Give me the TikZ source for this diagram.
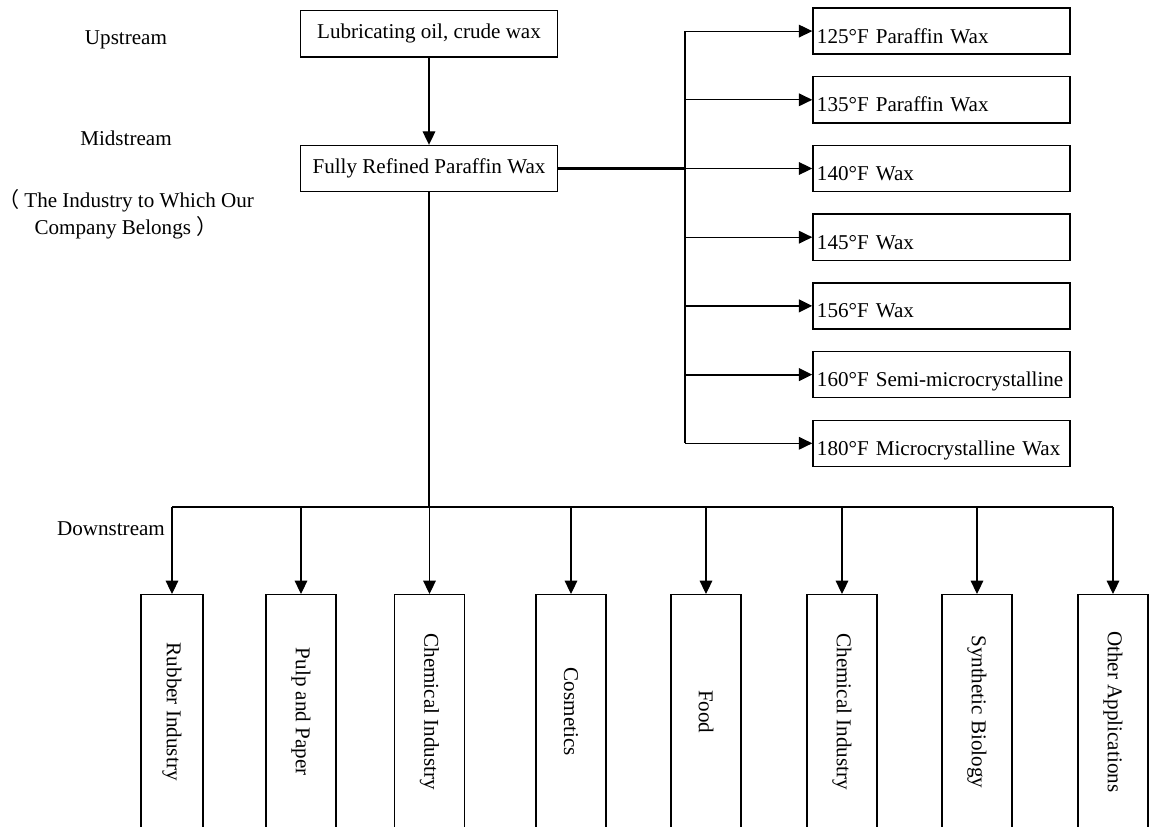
\documentclass[tikz,border=0pt]{standalone}
\usepackage{fontspec}
\setmainfont{Liberation Serif}
\newfontfamily\cjk{Noto Sans CJK SC}
\usetikzlibrary{arrows.meta}

\tikzset{
  stagebox/.style={draw, line width=1pt, minimum width=6.425cm, minimum height=1.15cm, inner sep=0pt},
  waxbox/.style={draw, line width=1pt, minimum height=1.15cm, text width=6.225cm, inner xsep=0.1cm, inner ysep=0pt, align=left, text height=17pt, text depth=0pt},
  appbox/.style={draw, line width=1pt, minimum width=1.75cm, minimum height=5.85cm, anchor=north, inner sep=0pt},
  arr/.style={-{Triangle[length=9.5pt,width=9pt]}, line width=0.8pt},
  main/.style={line width=1.5pt},
}

\begin{document}
\begin{tikzpicture}[x=0.025cm, y=-0.025cm, every node/.style={font=\fontsize{15pt}{19pt}\selectfont}]
        \useasboundingbox (0,0) rectangle (1152,827);
        \clip (0,0) rectangle (1152,827);

        % stage labels
        \node (upl) at (126,40) {Upstream};
        \node (midl) at (126,138) {Midstream};
        \node[align=center, inner sep=0pt] (ownl) at (126,214) {{\cjk （}\hspace{0.25em}The Industry to Which Our\\Company Belongs\hspace{0.25em}{\cjk ）}};
        \node (downl) at (111,529) {Downstream};

        % upstream -> midstream
        \node[stagebox] (up) at (429,33.8) {Lubricating oil, crude wax};
        \node[stagebox] (mid) at (429,168.5) {Fully Refined Paraffin Wax};
        \draw[arr] (up) -- (mid);

        % wax grades
        \coordinate (trunk) at (685,0);
        \node[waxbox] (w1) at (941.5,31.1) {125°F Paraffin Wax};
        \node[waxbox] (w2) at (941.5,99.8) {135°F Paraffin Wax};
        \node[waxbox] (w3) at (941.5,168.5) {140°F Wax};
        \node[waxbox] (w4) at (941.5,237.2) {145°F Wax};
        \node[waxbox] (w5) at (941.5,305.9) {156°F Wax};
        \node[waxbox] (w6) at (941.5,374.6) {160°F Semi-microcrystalline};
        \node[waxbox] (w7) at (941.5,443.3) {180°F Microcrystalline Wax};

        \draw[line width=0.8pt] (trunk |- w1) -- (trunk |- w7);
        \draw[main] (mid.east) -- (trunk |- mid) -- (trunk |- w6);
        \draw[arr] (trunk |- w1) -- (w1.west);
        \draw[arr] (trunk |- w2) -- (w2.west);
        \draw[arr] (trunk |- w3) -- (w3.west);
        \draw[arr] (trunk |- w4) -- (w4.west);
        \draw[arr, main] (trunk |- w5) -- (w5.west);
        \draw[arr, main] (trunk |- w6) -- (w6.west);
        \draw[arr] (trunk |- w7) -- (w7.west);

        % downstream applications
        \coordinate (bus) at (429,507);
        \node[appbox, minimum width=1.54cm] (a1) at (172,594) {\rotatebox{-90}{Rubber Industry}};
        \node[appbox] (a2) at (301,594) {\rotatebox{-90}{Pulp and Paper}};
        \node[appbox] (a3) at (429.5,594) {\rotatebox{-90}{Chemical Industry}};
        \node[appbox] (a4) at (571,594) {\rotatebox{-90}{Cosmetics}};
        \node[appbox] (a5) at (706,594) {\rotatebox{-90}{Food}};
        \node[appbox] (a6) at (842,594) {\rotatebox{-90}{Chemical Industry}};
        \node[appbox] (a7) at (977,594) {\rotatebox{-90}{Synthetic Biology}};
        \node[appbox] (a8) at (1113,594) {\rotatebox{-90}{Other Applications}};

        \draw[main] (mid.south) -- (bus);
        \draw[line width=0.8pt] (bus -| a1) -- (bus -| a8);
        \draw[main] (bus) -- (bus -| a7);
        \draw[arr] (bus -| a1) -- (a1.north);
        \draw[arr] (bus -| a2) -- (a2.north);
        \draw[arr] (bus -| a3) -- (a3.north);
        \draw[arr] (bus -| a4) -- (a4.north);
        \draw[arr] (bus -| a5) -- (a5.north);
        \draw[arr] (bus -| a6) -- (a6.north);
        \draw[arr] (bus -| a7) -- (a7.north);
        \draw[arr] (bus -| a8) -- (a8.north);
      \end{tikzpicture}
\end{document}
